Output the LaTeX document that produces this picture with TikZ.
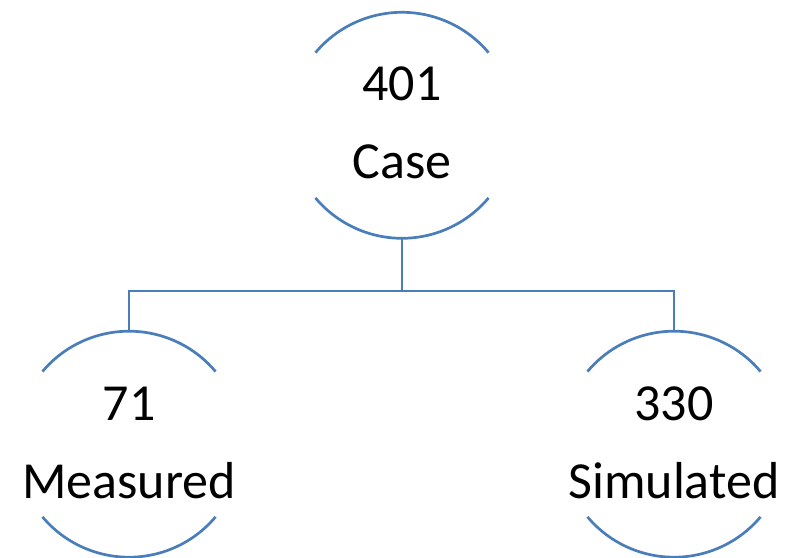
\documentclass[tikz,border=0pt]{standalone}
\usepackage{fontspec}
\setmainfont{Carlito}
\usetikzlibrary{calc}
\definecolor{lineblue}{RGB}{74,126,187}
\begin{document}
\begin{tikzpicture}[x=1pt,y=1pt,
  ring/.style={circle,draw=none,minimum size=226pt,inner sep=0pt},
  arcline/.style={draw=lineblue,line width=2.7pt},
  conn/.style={draw=lineblue,line width=2.7pt},
  lbl/.style={anchor=base,inner sep=0pt,font=\fontsize{52}{60}\selectfont}]
\useasboundingbox (0,0) rectangle (786,557);
\node[ring] (c1) at (402,431.7) {};
\node[ring] (c2) at (129,112.8) {};
\node[ring] (c3) at (674,112.8) {};
\foreach \n in {c1,c2,c3}{
  \draw[arcline] ([shift={(40:113pt)}]\n.center) arc[start angle=40,end angle=140,radius=113pt];
  \draw[arcline] ([shift={(220:113pt)}]\n.center) arc[start angle=220,end angle=320,radius=113pt];
}
\node[lbl] (t1) at (402,456.3) {401};
\node[lbl] (t2) at (402,378.7) {Case};
\node[lbl] (l1) at (129,137) {71};
\node[lbl] (l2) at (129,58.7) {Measured};
\node[lbl] (r1) at (674,137) {330};
\node[lbl] (r2) at (674,58.7) {Simulated};
\coordinate (j) at (402,266);
\draw[conn] (c1.south) -- (j);
\draw[conn] (j) -| (c2.north);
\draw[conn] (j) -| (c3.north);
\end{tikzpicture}
\end{document}
